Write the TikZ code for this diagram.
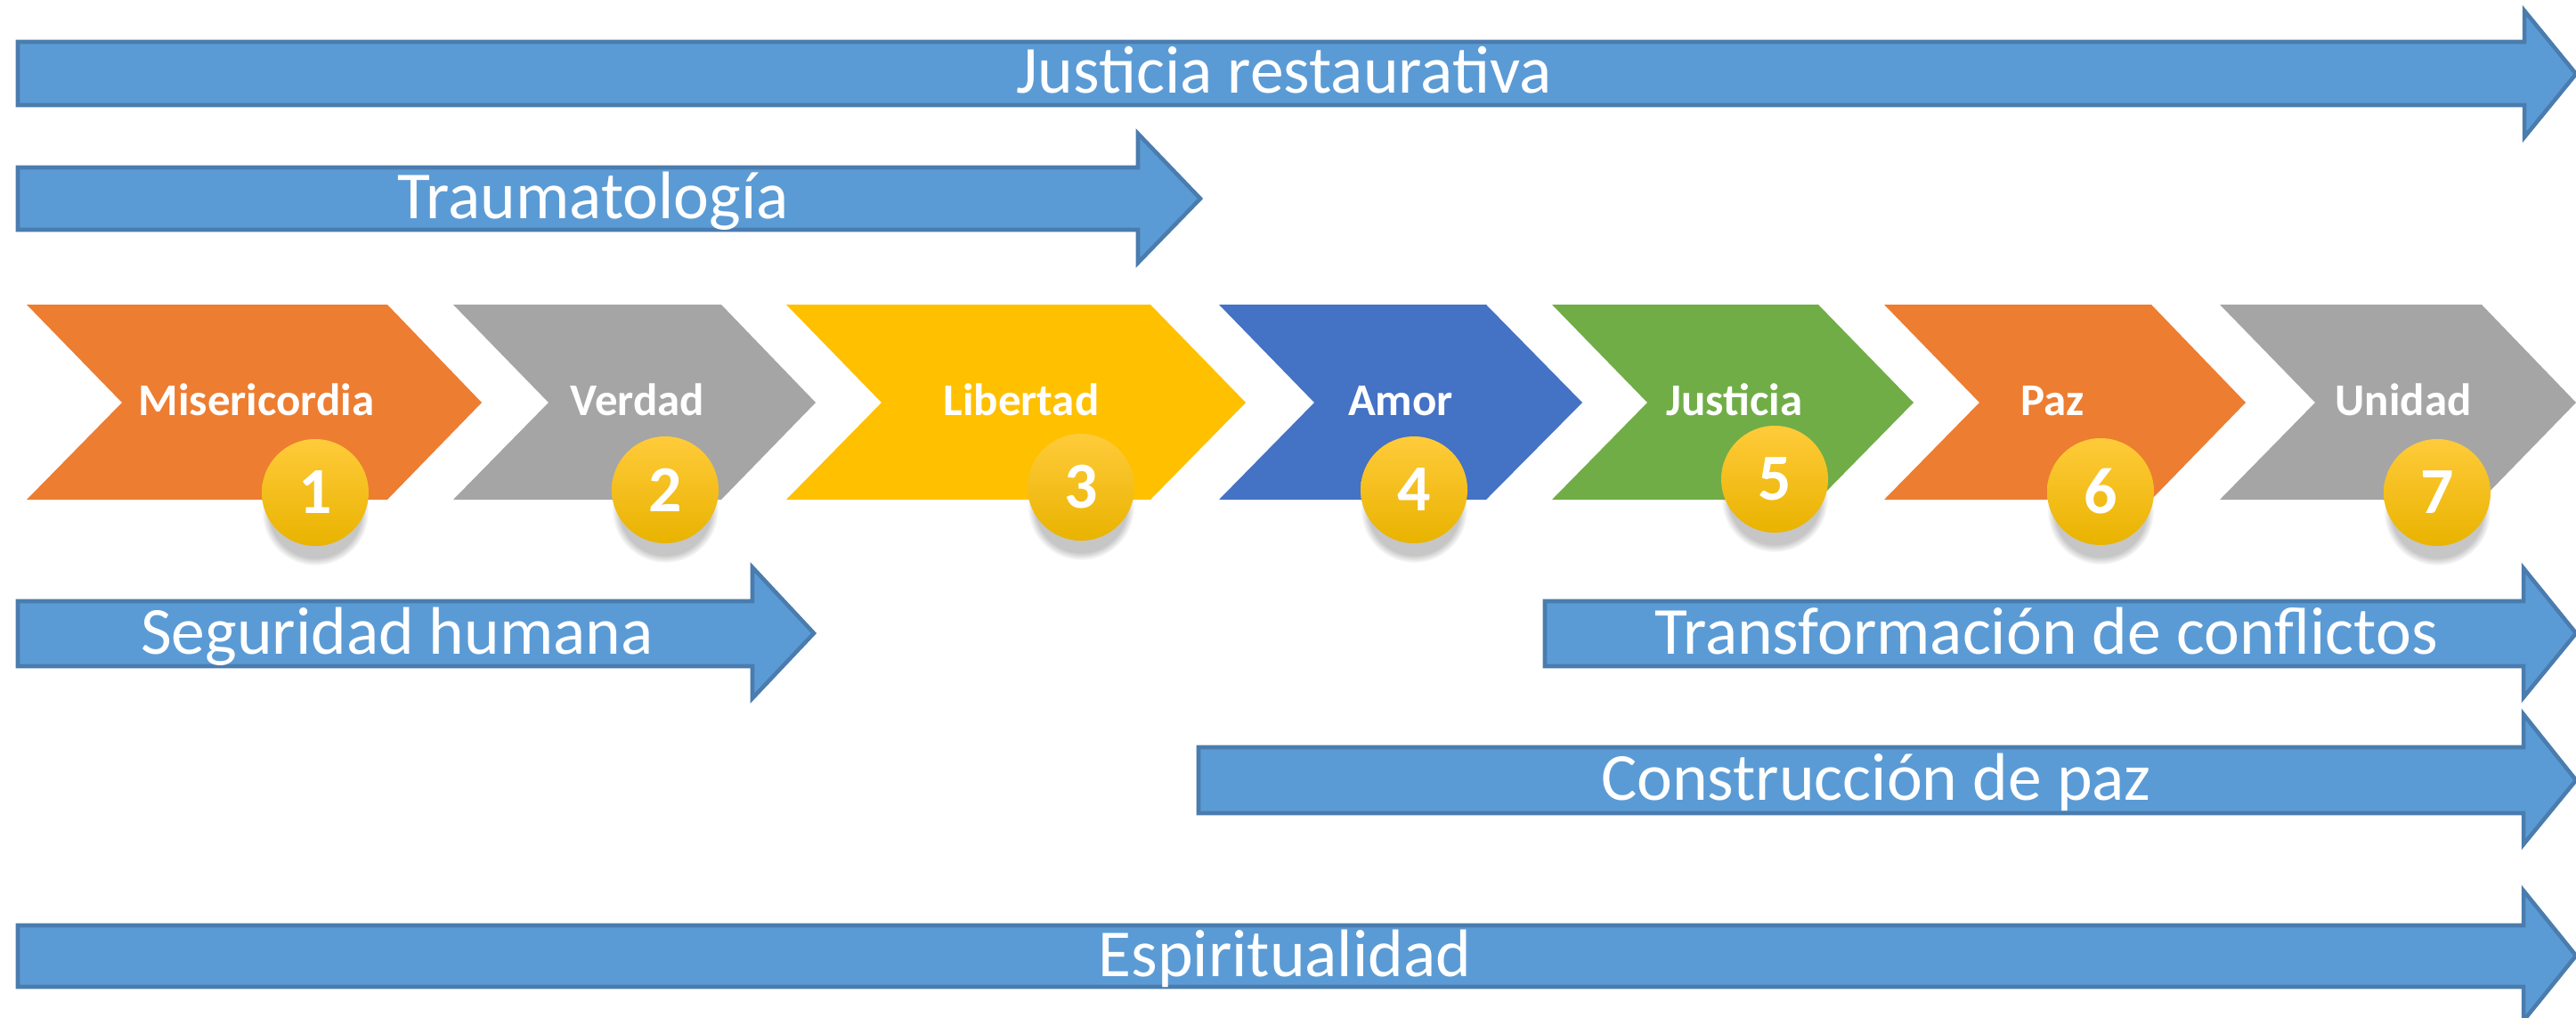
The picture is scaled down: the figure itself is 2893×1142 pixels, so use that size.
\documentclass[tikz,border=0pt]{standalone}
\usepackage{fontspec}
\setmainfont{Carlito}
\usetikzlibrary{shadows}
\definecolor{arrowfill}{HTML}{5B9BD5}
\definecolor{arrowline}{HTML}{4A7CAE}
\definecolor{corange}{HTML}{ED7D31}
\definecolor{cgray}{HTML}{A5A5A5}
\definecolor{cyellow}{HTML}{FFC000}
\definecolor{cblue}{HTML}{4472C4}
\definecolor{cgreen}{HTML}{70AD47}
\definecolor{goldtop}{HTML}{FFCB3A}
\definecolor{goldbot}{HTML}{E9B300}
\tikzset{
  bluearrow/.style={fill=arrowfill, draw=arrowline, line width=1.3pt, line join=miter},
  arrowtext/.style={anchor=base, text=white, inner sep=0pt, font=\fontsize{21.5pt}{24pt}\selectfont},
  chevlabel/.style={anchor=base, text=white, inner sep=0pt, font=\bfseries\fontsize{14.5pt}{16pt}\selectfont},
  badge/.style={circle, minimum size=12mm, inner sep=0pt, top color=goldtop, bottom color=goldbot,
    text=white, font=\bfseries\fontsize{21pt}{24pt}\selectfont,
    circular drop shadow={shadow xshift=0pt, shadow yshift=-2.2mm, shadow scale=1.0, opacity=0.45}},
}
\begin{document}
\begin{tikzpicture}[x=0.1mm,y=-0.1mm]
\useasboundingbox (0,0) rectangle (2893,1142);
\clip (0,0) rectangle (2893,1142);

% --- long arrows ---
\path[bluearrow] (20,47) -- (2835,47) -- (2835,12) -- (2893,83) -- (2835,154) -- (2835,118) -- (20,118) -- cycle;
\node[arrowtext] (jr) at (1442,105) {Justicia restaurativa};

\path[bluearrow] (20,188) -- (1278,188) -- (1278,150) -- (1348,223) -- (1278,295) -- (1278,258) -- (20,258) -- cycle;
\node[arrowtext] (tr) at (666,245) {Traumatología};

\path[bluearrow] (20,675) -- (845,675) -- (845,637) -- (914,711) -- (845,784) -- (845,748) -- (20,748) -- cycle;
\node[arrowtext] (sh) at (446,734) {Seguridad humana};

\path[bluearrow] (1735,675) -- (2834,675) -- (2834,638) -- (2893,711) -- (2834,783) -- (2834,748) -- (1735,748) -- cycle;
\node[arrowtext] (tc) at (2298,734) {Transformación de conflictos};

\path[bluearrow] (1346,839) -- (2834,839) -- (2834,802) -- (2893,876) -- (2834,948) -- (2834,913) -- (1346,913) -- cycle;
\node[arrowtext] (cp) at (2107,898) {Construcción de paz};

\path[bluearrow] (20,1039) -- (2834,1039) -- (2834,1000) -- (2893,1073) -- (2834,1146) -- (2834,1108) -- (20,1108) -- cycle;
\node[arrowtext] (es) at (1443,1096) {Espiritualidad};

% --- chevrons ---
\foreach \L/\R/\T/\col in {30/435/541/corange, 509/810/916/cgray, 883/1292/1399/cyellow,
  1369/1669/1777/cblue, 1743/2042/2149/cgreen, 2116/2416/2522/corange, 2493/2787/2893/cgray}{
  \fill[\col] (\L,342) -- (\R,342) -- (\T,452) -- (\R,561) -- (\L,561) -- (\L+107,452) -- cycle;
}
\node[chevlabel] (l1) at (288,466) {Misericordia};
\node[chevlabel] (l2) at (716,466) {Verdad};
\node[chevlabel] (l3) at (1147,466) {Libertad};
\node[chevlabel] (l4) at (1573,466) {Amor};
\node[chevlabel] (l5) at (1948,466) {Justicia};
\node[chevlabel] (l6) at (2305,466) {Paz};
\node[chevlabel] (l7) at (2699,466) {Unidad};

% --- badges ---
\node[badge] (b1) at (354,553) {1};
\node[badge] (b2) at (747,550) {2};
\node[badge] (b3) at (1214,547) {3};
\node[badge] (b4) at (1588,550) {4};
\node[badge] (b5) at (1993,538) {5};
\node[badge] (b6) at (2359,552) {6};
\node[badge] (b7) at (2737,553) {7};
\end{tikzpicture}
\end{document}
